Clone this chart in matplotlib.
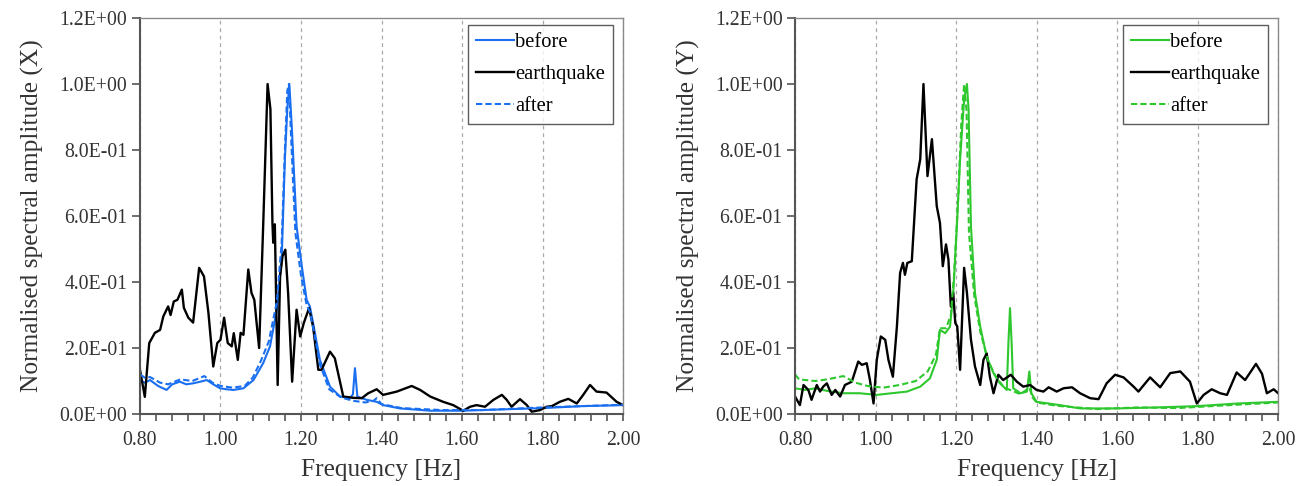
import numpy as np
import matplotlib
matplotlib.use("Agg")
import matplotlib.pyplot as plt
from matplotlib.ticker import MultipleLocator, FuncFormatter

# =========================================================
# 1. DATA
# =========================================================

# --- X direction: earthquake record ---
fx_eq = [0.800, 0.812, 0.823, 0.837, 0.850, 0.858, 0.870, 0.876, 0.884, 0.893,
         0.904, 0.909, 0.920, 0.932, 0.947, 0.959, 0.970, 0.982, 0.992, 1.000,
         1.009, 1.018, 1.028, 1.033, 1.043, 1.050, 1.057, 1.069, 1.077, 1.084,
         1.096, 1.106, 1.117, 1.124, 1.129, 1.131, 1.135, 1.142, 1.148, 1.154,
         1.161, 1.168, 1.178, 1.189, 1.198, 1.207, 1.220, 1.230, 1.243, 1.251,
         1.272, 1.284, 1.305, 1.330, 1.351, 1.367, 1.388, 1.404, 1.438, 1.475,
         1.496, 1.521, 1.553, 1.578, 1.603, 1.620, 1.636, 1.657, 1.678, 1.699,
         1.711, 1.723, 1.744, 1.761, 1.773, 1.794, 1.810, 1.823, 1.843, 1.864,
         1.885, 1.901, 1.918, 1.934, 1.959, 1.984, 2.000]
ax_eq = [0.134, 0.052, 0.215, 0.246, 0.255, 0.296, 0.326, 0.300, 0.341, 0.346,
         0.377, 0.322, 0.292, 0.277, 0.443, 0.417, 0.307, 0.144, 0.215, 0.225,
         0.292, 0.215, 0.205, 0.245, 0.164, 0.246, 0.240, 0.438, 0.367, 0.346,
         0.200, 0.569, 1.000, 0.924, 0.580, 0.519, 0.575, 0.088, 0.417, 0.478,
         0.498, 0.367, 0.098, 0.316, 0.235, 0.276, 0.321, 0.265, 0.134, 0.134,
         0.189, 0.169, 0.053, 0.049, 0.048, 0.063, 0.075, 0.058, 0.068, 0.085,
         0.073, 0.053, 0.037, 0.027, 0.010, 0.022, 0.027, 0.022, 0.043, 0.058,
         0.043, 0.022, 0.045, 0.027, 0.007, 0.012, 0.022, 0.024, 0.037, 0.046,
         0.032, 0.058, 0.088, 0.068, 0.065, 0.037, 0.027]

# --- X direction: ambient before ---
fx_before = [0.800, 0.812, 0.825, 0.845, 0.866, 0.880, 0.899, 0.915, 0.932, 0.950,
             0.966, 0.982, 0.999, 1.015, 1.032, 1.057, 1.082, 1.106, 1.123, 1.140,
             1.152, 1.160, 1.166, 1.171, 1.177, 1.189, 1.202, 1.214, 1.222, 1.230,
             1.247, 1.272, 1.297, 1.322, 1.329, 1.334, 1.340, 1.363, 1.388, 1.404,
             1.446, 1.521, 1.600, 1.700, 1.800, 1.900, 2.000]
ax_before = [0.103, 0.095, 0.103, 0.085, 0.073, 0.090, 0.098, 0.090, 0.093, 0.098,
             0.103, 0.090, 0.078, 0.075, 0.073, 0.078, 0.103, 0.154, 0.205, 0.316,
             0.468, 0.772, 0.924, 1.000, 0.873, 0.569, 0.448, 0.346, 0.326, 0.276,
             0.164, 0.083, 0.053, 0.048, 0.060, 0.139, 0.053, 0.043, 0.037, 0.027,
             0.017, 0.010, 0.010, 0.014, 0.018, 0.024, 0.027]

# --- X direction: ambient after ---
fx_after = [0.800, 0.812, 0.825, 0.850, 0.870, 0.900, 0.930, 0.960, 0.980, 1.000,
            1.030, 1.060, 1.080, 1.100, 1.120, 1.140, 1.152, 1.160, 1.166, 1.170,
            1.175, 1.186, 1.200, 1.214, 1.222, 1.232, 1.247, 1.270, 1.300, 1.330,
            1.360, 1.380, 1.388, 1.400, 1.450, 1.550, 1.650, 1.800, 2.000]
ax_after = [0.120, 0.110, 0.112, 0.095, 0.090, 0.105, 0.100, 0.115, 0.095, 0.085,
            0.080, 0.085, 0.110, 0.160, 0.220, 0.340, 0.520, 0.800, 0.980, 1.000,
            0.850, 0.550, 0.420, 0.330, 0.310, 0.250, 0.150, 0.075, 0.050, 0.040,
            0.035, 0.040, 0.048, 0.030, 0.018, 0.012, 0.012, 0.020, 0.028]

# --- Y direction: earthquake record ---
fy_eq = [0.800, 0.812, 0.821, 0.833, 0.841, 0.854, 0.862, 0.870, 0.879, 0.891,
         0.900, 0.912, 0.924, 0.941, 0.957, 0.966, 0.978, 0.986, 0.995, 1.003,
         1.013, 1.024, 1.032, 1.043, 1.053, 1.061, 1.068, 1.073, 1.079, 1.090,
         1.102, 1.111, 1.119, 1.129, 1.140, 1.152, 1.160, 1.167, 1.175, 1.181,
         1.187, 1.193, 1.198, 1.203, 1.210, 1.220, 1.227, 1.237, 1.247, 1.260,
         1.268, 1.276, 1.284, 1.293, 1.305, 1.317, 1.336, 1.351, 1.367, 1.384,
         1.400, 1.417, 1.430, 1.450, 1.467, 1.488, 1.508, 1.533, 1.554, 1.574,
         1.595, 1.616, 1.641, 1.653, 1.682, 1.707, 1.732, 1.757, 1.781, 1.798,
         1.815, 1.835, 1.856, 1.873, 1.897, 1.918, 1.945, 1.960, 1.972, 1.989,
         2.000]
ay_eq = [0.053, 0.027, 0.088, 0.073, 0.043, 0.088, 0.068, 0.083, 0.093, 0.058,
         0.073, 0.053, 0.088, 0.098, 0.159, 0.149, 0.154, 0.103, 0.032, 0.164,
         0.235, 0.225, 0.164, 0.113, 0.265, 0.428, 0.458, 0.422, 0.458, 0.463,
         0.711, 0.772, 1.000, 0.721, 0.833, 0.630, 0.579, 0.448, 0.514, 0.468,
         0.326, 0.367, 0.276, 0.265, 0.134, 0.443, 0.367, 0.225, 0.144, 0.088,
         0.164, 0.184, 0.113, 0.063, 0.119, 0.103, 0.119, 0.098, 0.083, 0.088,
         0.073, 0.068, 0.081, 0.068, 0.078, 0.081, 0.063, 0.048, 0.045, 0.093,
         0.119, 0.111, 0.083, 0.068, 0.111, 0.081, 0.124, 0.129, 0.098, 0.032,
         0.058, 0.075, 0.063, 0.058, 0.126, 0.103, 0.152, 0.122, 0.063, 0.075,
         0.063]

# --- Y direction: ambient before ---
fy_before = [0.800, 0.825, 0.850, 0.880, 0.920, 0.960, 1.003, 1.040, 1.078, 1.111,
             1.135, 1.152, 1.160, 1.173, 1.185, 1.193, 1.202, 1.210, 1.220, 1.227,
             1.231, 1.237, 1.247, 1.260, 1.276, 1.293, 1.309, 1.326, 1.330, 1.334,
             1.338, 1.342, 1.360, 1.376, 1.382, 1.387, 1.400, 1.458, 1.508, 1.600,
             1.700, 1.800, 1.900, 2.000]
ay_before = [0.078, 0.073, 0.078, 0.070, 0.063, 0.063, 0.058, 0.063, 0.068, 0.083,
             0.108, 0.164, 0.255, 0.245, 0.265, 0.367, 0.569, 0.772, 0.954, 1.000,
             0.924, 0.569, 0.367, 0.265, 0.174, 0.124, 0.093, 0.073, 0.215, 0.321,
             0.215, 0.078, 0.063, 0.068, 0.129, 0.063, 0.037, 0.027, 0.017, 0.017,
             0.020, 0.024, 0.032, 0.037]

# --- Y direction: ambient after ---
fy_after = [0.800, 0.810, 0.850, 0.880, 0.920, 0.950, 0.980, 1.020, 1.060, 1.100,
            1.130, 1.150, 1.160, 1.175, 1.187, 1.195, 1.205, 1.213, 1.220, 1.226,
            1.232, 1.245, 1.260, 1.280, 1.300, 1.320, 1.340, 1.360, 1.382, 1.390,
            1.400, 1.450, 1.550, 1.650, 1.750, 1.850, 2.000]
ay_after = [0.120, 0.105, 0.100, 0.105, 0.115, 0.095, 0.085, 0.080, 0.088, 0.100,
            0.130, 0.180, 0.260, 0.260, 0.300, 0.420, 0.650, 0.880, 1.000, 0.920,
            0.550, 0.360, 0.250, 0.160, 0.110, 0.080, 0.070, 0.060, 0.080, 0.050,
            0.035, 0.025, 0.015, 0.020, 0.018, 0.025, 0.035]

x_ticks = [0.80, 1.00, 1.20, 1.40, 1.60, 1.80, 2.00]
y_ticks = [0.0, 0.2, 0.4, 0.6, 0.8, 1.0, 1.2]
legend_labels = ["before", "earthquake", "after"]

# =========================================================
# 2. FIGURE
# =========================================================

plt.rcParams["font.family"] = ["Liberation Serif", "DejaVu Serif"]

fig = plt.figure(figsize=(13.07, 4.86), dpi=100)
ax1 = fig.add_axes([0.1071, 0.1481, 0.3696, 0.8148])
ax2 = fig.add_axes([0.6083, 0.1481, 0.3696, 0.8148])

panels = [
    (ax1, fx_before, ax_before, fx_eq, ax_eq, fx_after, ax_after, "#1a6ff0", "(X)"),
    (ax2, fy_before, ay_before, fy_eq, ay_eq, fy_after, ay_after, "#2ec82e", "(Y)"),
]

for ax, fb, vb, fe, ve, fa, va, col, comp in panels:

    ax.plot(fb, vb, "-", color=col, linewidth=1.5, label=legend_labels[0])
    ax.plot(fe, ve, "-", color="black", linewidth=1.7, label=legend_labels[1])
    ax.plot(fa, va, "--", color=col, linewidth=1.5, dashes=(3, 1.5),
            label=legend_labels[2])

    ax.set_xlim(0.8, 2.0)
    ax.set_ylim(0.0, 1.2)
    ax.set_xticks(x_ticks)
    ax.set_yticks(y_ticks)
    ax.xaxis.set_minor_locator(MultipleLocator(0.04))
    ax.xaxis.set_major_formatter(FuncFormatter(lambda v, p: f"{v:.2f}"))
    ax.yaxis.set_major_formatter(FuncFormatter(lambda v, p: f"{v:.1E}"))

    ax.tick_params(axis="both", which="both", direction="out", color="#555555",
                   labelsize=14.2, labelcolor="#333333")
    ax.tick_params(axis="x", which="both", length=5, width=1.2, pad=7)
    ax.tick_params(axis="y", which="major", length=6, width=1.2, pad=3)

    # only vertical dashed grid at the major frequencies
    ax.grid(axis="x", which="major", linestyle=(0, (3, 3)),
            color="#aaaaaa", linewidth=0.9)
    ax.set_axisbelow(True)

    for side in ["left", "bottom"]:
        ax.spines[side].set_color("#555555")
        ax.spines[side].set_linewidth(1.5)
    for side in ["top", "right"]:
        ax.spines[side].set_color("#8a8a8a")
        ax.spines[side].set_linewidth(1.0)

    ax.set_xlabel("Frequency [Hz]", fontsize=18.3, color="#333333", labelpad=7)
    ax.set_ylabel(f"Normalised spectral amplitude {comp}", fontsize=18.3,
                  color="#333333", labelpad=11)

    leg = ax.legend(loc="upper right", bbox_to_anchor=(0.98, 0.983),
                    fontsize=14.8, frameon=True, fancybox=False,
                    edgecolor="#333333", handlelength=1.85,
                    handletextpad=0.05, labelspacing=0.6, borderpad=0.4,
                    borderaxespad=0.0)
    leg.get_frame().set_linewidth(1.0)

fig.savefig("out.png", dpi=100)
